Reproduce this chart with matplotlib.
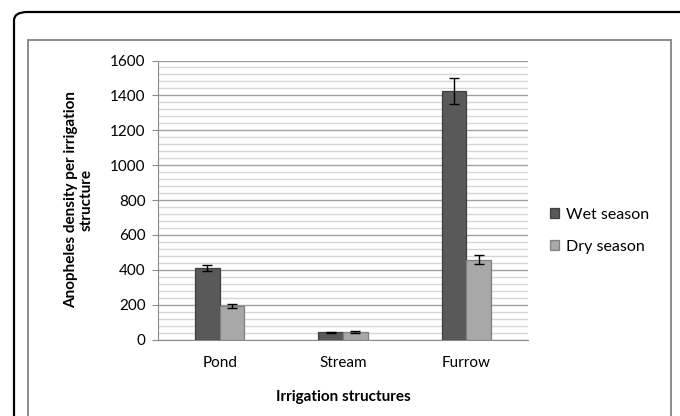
import numpy as np
import matplotlib.pyplot as plt
from matplotlib.patches import FancyBboxPatch, Rectangle

# Data
categories = ['Pond', 'Stream', 'Furrow']
wet = [408, 41, 1424]
wet_err = [18, 3, 73]
dry = [193, 42, 458]
dry_err = [10, 4, 24]

plt.rcParams['font.family'] = ['Lato', 'DejaVu Sans']

fig = plt.figure(figsize=(6.8, 4.16), dpi=100)
W, H = 680, 416

# outer rounded border and inner chart frame (figure pixels -> fraction)
outer = FancyBboxPatch((14 / W, -0.2), 1.0, (416 - 12) / H + 0.2,
                       boxstyle='round,pad=0,rounding_size=0.02',
                       transform=fig.transFigure, fill=False,
                       edgecolor='black', linewidth=1.6, clip_on=False)
fig.patches.append(outer)
inner = Rectangle((28 / W, -0.1), (671 - 28) / W, (416 - 40) / H + 0.1,
                  transform=fig.transFigure, fill=False,
                  edgecolor='#8c8c8c', linewidth=1.4)
fig.patches.append(inner)

ax = fig.add_axes([158 / W, (416 - 339.5) / H, (528 - 158) / W, (339.5 - 60.5) / H])

x = np.arange(len(categories))
bw = 0.2
ax.bar(x - bw / 2, wet, bw, color='#595959', edgecolor='#3f3f3f', linewidth=0.9,
       label='Wet season', zorder=3)
ax.bar(x + bw / 2, dry, bw, color='#a8a8a8', edgecolor='#808080', linewidth=0.9,
       label='Dry season', zorder=3)
ax.errorbar(x - bw / 2, wet, yerr=wet_err, fmt='none', ecolor='black',
            elinewidth=1, capsize=3.5, capthick=1, zorder=4)
ax.errorbar(x + bw / 2, dry, yerr=dry_err, fmt='none', ecolor='black',
            elinewidth=1, capsize=3.5, capthick=1, zorder=4)

ax.set_xlim(-0.5, 2.5)
ax.set_ylim(0, 1600)
ax.set_yticks(np.arange(0, 1601, 200))
ax.set_yticks(np.arange(0, 1601, 40), minor=True)
ax.grid(True, which='major', axis='y', color='#a0a0a0', linewidth=1.0, zorder=0)
ax.grid(True, which='minor', axis='y', color='#d6d6d6', linewidth=1.0, zorder=0)
ax.set_axisbelow(True)

ax.set_xticks(x)
ax.set_xticklabels(categories, fontsize=11)
ax.tick_params(axis='x', length=0, pad=12)
ax.tick_params(axis='y', which='major', length=4, color='#8c8c8c', labelsize=11, pad=5)
ax.tick_params(axis='y', which='minor', length=0)

for s in ['top', 'right']:
    ax.spines[s].set_visible(False)
for s in ['left', 'bottom']:
    ax.spines[s].set_color('#8c8c8c')

ax.set_xlabel('Irrigation structures', fontsize=11, fontweight='bold', labelpad=14)
ax.set_ylabel('Anopheles density per irrigation\nstructure', fontsize=11,
              fontweight='bold', labelpad=12, linespacing=1.15)

ax.legend(loc='center left', bbox_to_anchor=(1.02, 0.39), frameon=False,
          fontsize=11.5, handlelength=0.6, handleheight=0.6, labelspacing=1.15,
          handletextpad=0.4)

fig.savefig('out.png', dpi=100)
